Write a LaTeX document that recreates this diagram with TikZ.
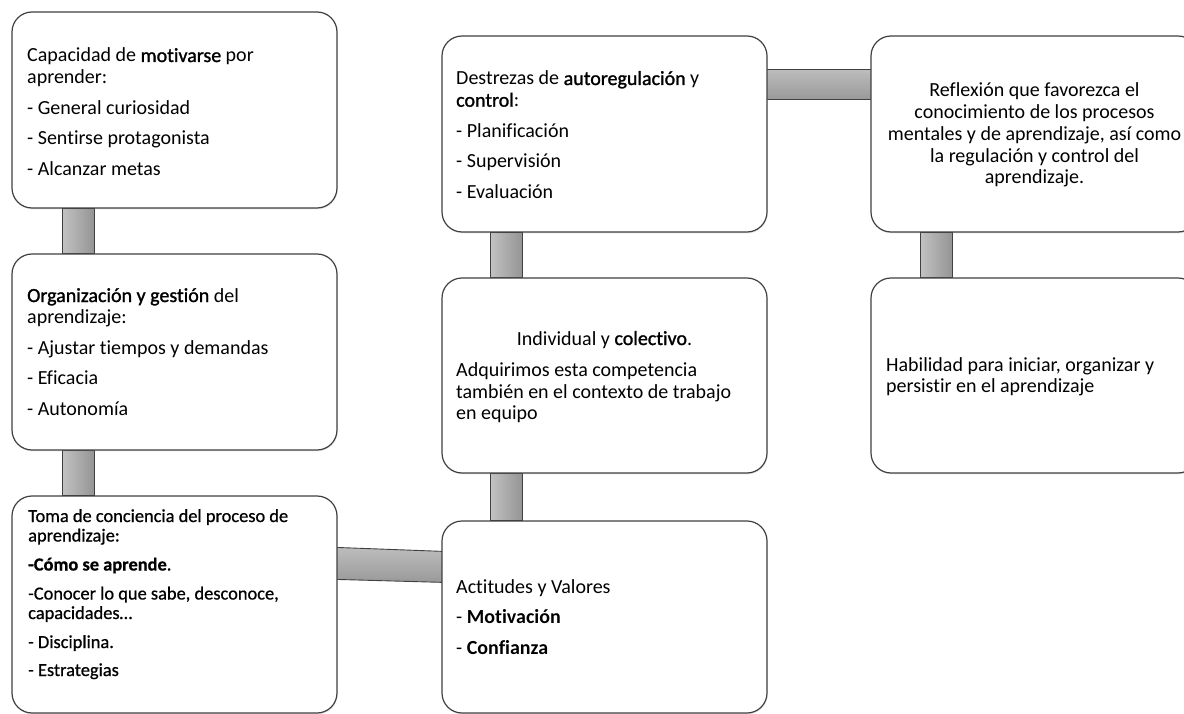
\documentclass[tikz,border=0pt]{standalone}
\usepackage{fontspec}
\setmainfont{Carlito}[Ligatures=NoCommon]
\newfontfamily\semifont[FakeBold=1.3,Ligatures=NoCommon]{Carlito}
\newfontfamily\lightsemifont[FakeBold=0.7,Ligatures=NoCommon]{Carlito}
\newcommand\semib[1]{{\semifont #1}}
\usetikzlibrary{calc,shadows}
\pgfdeclarelayer{bg}
\pgfsetlayers{bg,main}
\begin{document}
\begin{tikzpicture}[x=1pt,y=-1pt,
  box/.style={draw=black!75, line width=1.2pt, rounded corners=20pt, fill=white,
    inner sep=0pt, drop shadow={opacity=0.18, shadow xshift=0.6pt, shadow yshift=-1.4pt}},
  txt/.style={anchor=base west, inner sep=0pt, text=black, font=\fontsize{20}{21.7}\selectfont},
  txtc/.style={txt, anchor=base},
  txts/.style={anchor=base west, inner sep=0pt, text=black, font=\lightsemifont\fontsize{18.4}{19.5}\selectfont},
  vbar/.style={left color=black!24, right color=black!42, draw=black!75, line width=0.9pt},
  hbar/.style={top color=black!26, bottom color=black!40, draw=black!75, line width=0.9pt}]
\useasboundingbox (0,0) rectangle (1184,714);
\clip (0,0) rectangle (1184,714);

% boxes
\node[box, minimum width=325pt, minimum height=196pt] (b1) at (174.5,110) {};
\node[box, minimum width=325pt, minimum height=196pt] (b2) at (174.5,352) {};
\node[box, minimum width=325pt, minimum height=217pt] (b3) at (174.5,604.5) {};
\node[box, minimum width=325pt, minimum height=196pt] (b4) at (604.5,134) {};
\node[box, minimum width=325pt, minimum height=195pt] (b5) at (604.5,375.5) {};
\node[box, minimum width=325pt, minimum height=192pt] (b6) at (604.5,617) {};
\node[box, minimum width=327pt, minimum height=196pt] (b7) at (1034.5,134) {};
\node[box, minimum width=327pt, minimum height=195pt] (b8) at (1034.5,375.5) {};

% connectors
\begin{pgfonlayer}{bg}
\path[vbar] ($(b1.south west)+(51,0)$) rectangle ($(b2.north west)+(83,0)$);
\path[vbar] ($(b2.south west)+(51,0)$) rectangle ($(b3.north west)+(83,0)$);
\path[vbar] ($(b4.south west)+(49,0)$) rectangle ($(b5.north west)+(81,0)$);
\path[vbar] ($(b5.south west)+(49,0)$) rectangle ($(b6.north west)+(81,0)$);
\path[vbar] ($(b7.south west)+(50,0)$) rectangle ($(b8.north west)+(82,0)$);
\path[hbar] ($(b3.north east)+(-2,52)$) -- ($(b6.north west)+(2,31)$) -- ($(b6.north west)+(2,62)$) -- ($(b3.north east)+(-2,84)$) -- cycle;
\path[hbar] ($(b4.north east)+(-2,34)$) rectangle ($(b7.north west)+(2,64)$);
\end{pgfonlayer}

% texts box 1
\node[txt] (t11) at (27,62) {Capacidad de \semib{motivarse} por};
\node[txt] (t12) at (27,83.7) {aprender:};
\node[txt] (t13) at (27,114.2) {- General curiosidad};
\node[txt] (t14) at (27,144.7) {- Sentirse protagonista};
\node[txt] (t15) at (27,175.2) {- Alcanzar metas};
% box 2
\node[txt] (t21) at (27,302) {\semib{Organización y gestión} del};
\node[txt] (t22) at (27,323.7) {aprendizaje:};
\node[txt] (t23) at (27,354.2) {- Ajustar tiempos y demandas};
\node[txt] (t24) at (27,384.7) {- Eficacia};
\node[txt] (t25) at (27,415.2) {- Autonomía};
% box 3
\node[txts] (t31) at (28,522) {Toma de conciencia del proceso de};
\node[txts] (t32) at (28,541.5) {aprendizaje:};
\node[txts] (t33) at (28,570.5) {{\bfseries -Cómo se aprende}.};
\node[txts] (t34) at (28,599.5) {-Conocer lo que sabe, desconoce,};
\node[txts] (t35) at (28,619) {capacidades…};
\node[txts] (t36) at (28,648) {- Disciplina.};
\node[txts] (t37) at (28,676) {- Estrategias};
% box 4
\node[txt] (t41) at (456,85) {Destrezas de \semib{autoregulación} y};
\node[txt] (t42) at (456,106.7) {\semib{control}:};
\node[txt] (t43) at (456,137.2) {- Planificación};
\node[txt] (t44) at (456,167.7) {- Supervisión};
\node[txt] (t45) at (456,198.2) {- Evaluación};
% box 5
\node[txtc] (t51) at (604.5,345) {Individual y \semib{colectivo}.};
\node[txt] (t52) at (456,376.5) {Adquirimos esta competencia};
\node[txt] (t53) at (456,398.2) {también en el contexto de trabajo};
\node[txt] (t54) at (456,419.9) {en equipo};
% box 6
\node[txt] (t61) at (456,593) {Actitudes y Valores};
\node[txt] (t62) at (456,623.5) {- \textbf{Motivación}};
\node[txt] (t63) at (456,654) {- \textbf{Confianza}};
% box 7
\node[txtc] (t71) at (1034.5,97) {Reflexión que favorezca el};
\node[txtc] (t72) at (1034.5,118.7) {conocimiento de los procesos};
\node[txtc] (t73) at (1034.5,140.4) {mentales y de aprendizaje, así como};
\node[txtc] (t74) at (1034.5,162.1) {la regulación y control del};
\node[txtc] (t75) at (1034.5,183.8) {aprendizaje.};
% box 8
\node[txt] (t81) at (886,371) {Habilidad para iniciar, organizar y};
\node[txt] (t82) at (886,392.7) {persistir en el aprendizaje};
\end{tikzpicture}
\end{document}
